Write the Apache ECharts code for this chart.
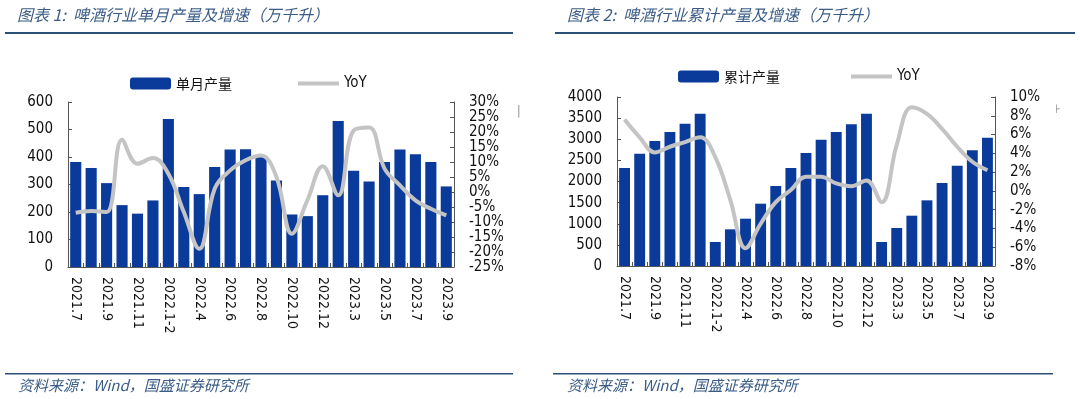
<!DOCTYPE html>
<html>
<head>
<meta charset="utf-8">
<title>啤酒行业产量</title>
<script src="https://cdn.jsdelivr.net/npm/echarts@6/dist/echarts.min.js"></script>
<style>
  html, body { margin: 0; padding: 0; background: #fff; }
  #chart { width: 1080px; height: 399px; }
</style>
</head>
<body>
<div id="chart"></div>
<script type="text/javascript">
// 月份
var months = ['2021.7','2021.8','2021.9','2021.10','2021.11','2021.12','2022.1-2','2022.3','2022.4','2022.5',
  '2022.6','2022.7','2022.8','2022.9','2022.10','2022.11','2022.12','2023.1-2','2023.3','2023.4',
  '2023.5','2023.6','2023.7','2023.8','2023.9'];
// 单月产量（万千升）及同比（%）
var monthlyOutput = [382,360,305,225,194,242,538,291,265,364,427,428,400,315,191,185,261,531,350,311,382,427,410,382,293];
var monthlyYoY = [-6.9,-6.3,-6.7,17.4,9.4,11.3,6.1,-6.7,-18.9,1.1,7.2,10.6,12.2,5.0,-13.9,-2.8,8.6,-1.1,20.5,21.5,7.8,2.2,-2.8,-5.6,-7.8];
// 累计产量（万千升）及同比（%）
var cumOutput = [2320,2659,2959,3172,3369,3606,568,868,1120,1475,1894,2320,2675,2990,3172,3353,3606,568,900,1191,1554,1965,2375,2738,3037];
var cumYoY = [7.6,5.7,4.1,4.7,5.2,5.7,3.6,-1.0,-6.1,-3.5,-1.2,0.1,1.5,1.5,0.8,0.5,1.1,-1.2,4.9,8.9,8.2,6.6,4.7,3.1,2.2];

var numFont = '"DejaVu Sans Condensed", "DejaVu Sans", sans-serif';
var cjkFont = '"Noto Sans CJK SC", sans-serif';
var barColor = '#0b3b9a';
var lineColor = '#c4c4c4';
var noteColor = '#3a5c86';

function xAxis(grid) {
  return {
    type: 'category', gridIndex: grid, data: months, boundaryGap: true,
    axisLine: { lineStyle: { color: '#555', width: 1 } },
    axisTick: { show: true, inside: true, length: 4, interval: 0, lineStyle: { color: '#555' } },
    axisLabel: { interval: 1, rotate: -90, margin: 10, color: '#111', fontSize: 14, fontFamily: numFont }
  };
}
function yAxis(grid, pos, min, max, step, unit) {
  return {
    type: 'value', gridIndex: grid, position: pos, min: min, max: max, interval: step,
    splitLine: { show: false },
    axisLine: { show: true, lineStyle: { color: '#555', width: 1 } },
    axisTick: { show: true, inside: true, length: 4, lineStyle: { color: '#555' } },
    axisLabel: { margin: 15, color: '#111', fontSize: 15, fontFamily: numFont,
      formatter: function (v) { return String(v) + unit; } }
  };
}
function legend(names, left, top, gap) {
  return {
    data: [
      { name: names[0] },
      { name: names[1], itemStyle: { color: 'rgba(0,0,0,0)', borderWidth: 0 },
        lineStyle: { width: 4, color: lineColor }, textStyle: { fontSize: 15, fontFamily: numFont } }
    ],
    left: left, top: top, itemGap: gap, itemWidth: 41, itemHeight: 12,
    textStyle: { fontSize: 14, color: '#111', fontFamily: cjkFont }
  };
}

var option = {
  animation: false,
  grid: [
    { left: 68, right: 626, top: 102, bottom: 132 },
    { left: 617, right: 85, top: 97, bottom: 133 }
  ],
  legend: [
    legend(['单月产量', 'YoY'], 125, 71, 64),
    legend(['累计产量', 'YoY'], 673, 64, 69)
  ],
  xAxis: [xAxis(0), xAxis(1)],
  yAxis: [
    yAxis(0, 'left', 0, 600, 100, ''),
    yAxis(0, 'right', -25, 30, 5, '%'),
    yAxis(1, 'left', 0, 4000, 500, ''),
    yAxis(1, 'right', -8, 10, 2, '%')
  ],
  series: [
    { name: '单月产量', type: 'bar', xAxisIndex: 0, yAxisIndex: 0, data: monthlyOutput,
      barCategoryGap: '28%', itemStyle: { color: barColor } },
    { name: 'YoY', type: 'line', xAxisIndex: 0, yAxisIndex: 1, data: monthlyYoY,
      smooth: 0.4, symbol: 'none', lineStyle: { color: lineColor, width: 4 }, itemStyle: { color: lineColor } },
    { name: '累计产量', type: 'bar', xAxisIndex: 1, yAxisIndex: 2, data: cumOutput,
      barCategoryGap: '28%', itemStyle: { color: barColor } },
    { name: 'YoY', type: 'line', xAxisIndex: 1, yAxisIndex: 3, data: cumYoY,
      smooth: 0.4, symbol: 'none', lineStyle: { color: lineColor, width: 4 }, itemStyle: { color: lineColor } }
  ],
  graphic: [
    { type: 'text', left: 17, top: 7, style: { text: '图表 1:  啤酒行业单月产量及增速（万千升）', fill: noteColor,
      font: 'italic 16px ' + cjkFont } },
    { type: 'rect', shape: { x: 5, y: 32, width: 508, height: 2 }, style: { fill: '#2c4f78' } },
    { type: 'text', left: 567, top: 7, style: { text: '图表 2:  啤酒行业累计产量及增速（万千升）', fill: noteColor,
      font: 'italic 16px ' + cjkFont } },
    { type: 'rect', shape: { x: 555, y: 32, width: 520, height: 2 }, style: { fill: '#2c4f78' } },
    { type: 'rect', shape: { x: 5, y: 373, width: 508, height: 1.5 }, style: { fill: '#2c4f78' } },
    { type: 'text', left: 18, top: 378, style: { text: '资料来源：Wind，国盛证券研究所', fill: noteColor,
      font: 'italic 15px ' + cjkFont } },
    { type: 'rect', shape: { x: 553, y: 373, width: 500, height: 1.5 }, style: { fill: '#2c4f78' } },
    { type: 'text', left: 567, top: 378, style: { text: '资料来源：Wind，国盛证券研究所', fill: noteColor,
      font: 'italic 15px ' + cjkFont } },
    { type: 'text', left: 517, top: 106, style: { text: '|', fill: '#888', font: '12px ' + numFont } },
    { type: 'text', left: 1055, top: 104, style: { text: '⊦', fill: '#888', font: '12px ' + numFont } }
  ]
};

var myChart = echarts.init(document.getElementById('chart'));
myChart.setOption(option, true);
</script>
</body>
</html>
